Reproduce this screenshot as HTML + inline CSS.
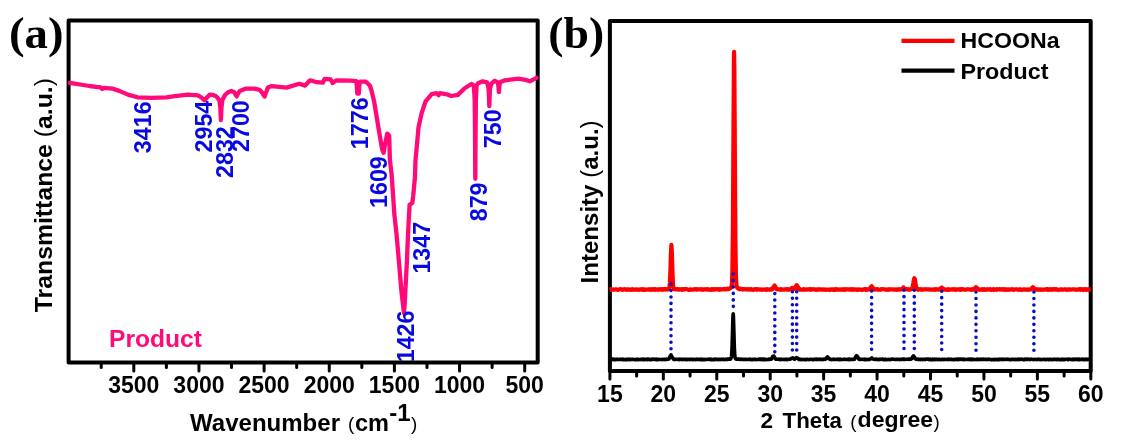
<!DOCTYPE html>
<html><head><meta charset="utf-8"><style>
html,body{margin:0;padding:0;background:#fff;}
body{width:1122px;height:446px;overflow:hidden;font-family:"Liberation Sans",sans-serif;}
svg{display:block;filter:blur(0.35px);}
</style></head><body>
<svg width="1122" height="446" viewBox="0 0 1122 446">
<rect width="1122" height="446" fill="#fff"/>
<rect x="68.6" y="20.4" width="469.10" height="342.00" fill="none" stroke="#000" stroke-width="4.0" stroke-linejoin="round"/>
<line x1="101.23" y1="362.4" x2="101.23" y2="367.40" stroke="#000" stroke-width="3" stroke-linecap="round"/>
<line x1="133.80" y1="362.4" x2="133.80" y2="370.90" stroke="#000" stroke-width="3" stroke-linecap="round"/>
<line x1="166.38" y1="362.4" x2="166.38" y2="367.40" stroke="#000" stroke-width="3" stroke-linecap="round"/>
<line x1="198.95" y1="362.4" x2="198.95" y2="370.90" stroke="#000" stroke-width="3" stroke-linecap="round"/>
<line x1="231.53" y1="362.4" x2="231.53" y2="367.40" stroke="#000" stroke-width="3" stroke-linecap="round"/>
<line x1="264.10" y1="362.4" x2="264.10" y2="370.90" stroke="#000" stroke-width="3" stroke-linecap="round"/>
<line x1="296.68" y1="362.4" x2="296.68" y2="367.40" stroke="#000" stroke-width="3" stroke-linecap="round"/>
<line x1="329.25" y1="362.4" x2="329.25" y2="370.90" stroke="#000" stroke-width="3" stroke-linecap="round"/>
<line x1="361.83" y1="362.4" x2="361.83" y2="367.40" stroke="#000" stroke-width="3" stroke-linecap="round"/>
<line x1="394.40" y1="362.4" x2="394.40" y2="370.90" stroke="#000" stroke-width="3" stroke-linecap="round"/>
<line x1="426.98" y1="362.4" x2="426.98" y2="367.40" stroke="#000" stroke-width="3" stroke-linecap="round"/>
<line x1="459.55" y1="362.4" x2="459.55" y2="370.90" stroke="#000" stroke-width="3" stroke-linecap="round"/>
<line x1="492.12" y1="362.4" x2="492.12" y2="367.40" stroke="#000" stroke-width="3" stroke-linecap="round"/>
<line x1="524.70" y1="362.4" x2="524.70" y2="370.90" stroke="#000" stroke-width="3" stroke-linecap="round"/>
<text x="133.80" y="392.5" font-family='"Liberation Sans", sans-serif' font-weight="bold" font-size="23.0" text-anchor="middle">3500</text>
<text x="198.95" y="392.5" font-family='"Liberation Sans", sans-serif' font-weight="bold" font-size="23.0" text-anchor="middle">3000</text>
<text x="264.10" y="392.5" font-family='"Liberation Sans", sans-serif' font-weight="bold" font-size="23.0" text-anchor="middle">2500</text>
<text x="329.25" y="392.5" font-family='"Liberation Sans", sans-serif' font-weight="bold" font-size="23.0" text-anchor="middle">2000</text>
<text x="394.40" y="392.5" font-family='"Liberation Sans", sans-serif' font-weight="bold" font-size="23.0" text-anchor="middle">1500</text>
<text x="459.55" y="392.5" font-family='"Liberation Sans", sans-serif' font-weight="bold" font-size="23.0" text-anchor="middle">1000</text>
<text x="524.70" y="392.5" font-family='"Liberation Sans", sans-serif' font-weight="bold" font-size="23.0" text-anchor="middle">500</text>
<path d="M69.8,82.8 L80.0,84.5 L89.4,86.0 L96.0,86.8 L100.5,87.4 L102.2,89.0 L104.0,87.8 L112.9,88.7 L119.3,90.9 L127.9,94.6 L137.5,97.3 L151.4,97.8 L166.4,97.3 L175.0,96.2 L187.8,94.6 L197.9,95.3 L201.5,97.5 L204.6,100.3 L207.0,97.5 L209.6,94.7 L213.0,95.0 L215.7,96.0 L217.6,97.8 L219.4,100.5 L220.3,107.0 L220.9,120.2 L221.5,107.0 L222.4,100.0 L224.2,96.5 L225.5,94.5 L228.0,92.3 L231.2,91.0 L234.0,92.0 L235.5,94.5 L236.7,96.4 L238.0,93.5 L239.8,91.0 L246.0,88.6 L254.6,88.6 L259.5,89.8 L262.0,92.5 L264.6,96.6 L266.0,92.5 L267.9,87.6 L271.8,86.1 L286.5,87.6 L299.3,83.7 L305.1,85.6 L310.0,80.3 L316.9,82.2 L322.8,82.7 L324.7,78.8 L330.6,79.3 L332.6,83.0 L336.5,80.3 L350.2,80.7 L356.3,81.2 L356.8,86.0 L357.3,93.5 L358.8,93.5 L359.3,86.0 L360.0,81.7 L365.9,81.7 L369.8,85.6 L371.1,89.1 L374.1,101.3 L376.1,113.4 L379.1,131.6 L382.2,149.7 L383.6,152.8 L385.2,143.7 L387.2,133.6 L389.2,135.6 L389.9,160.0 L391.6,174.3 L392.9,192.3 L394.3,213.8 L396.6,235.0 L399.1,263.6 L401.5,292.0 L403.3,307.0 L404.0,313.0 L404.6,305.0 L405.3,292.0 L406.8,263.6 L408.0,235.0 L408.7,221.0 L409.6,204.8 L412.3,203.0 L413.2,195.8 L414.9,177.9 L415.5,160.0 L416.5,149.7 L418.5,127.5 L421.6,113.4 L425.6,101.3 L431.7,94.2 L436.7,93.2 L438.7,95.2 L440.0,93.2 L446.7,94.3 L451.2,96.0 L457.9,94.9 L464.7,88.2 L471.4,84.0 L473.8,85.3 L474.7,100.0 L475.0,130.0 L475.3,178.8 L475.6,130.0 L475.9,100.0 L476.6,85.5 L478.1,83.3 L482.6,81.3 L487.1,82.3 L488.5,88.0 L488.9,95.0 L489.3,106.1 L489.7,95.0 L490.1,88.0 L491.6,83.4 L494.9,80.8 L497.8,82.3 L498.5,87.0 L498.9,92.1 L499.3,87.0 L500.0,82.3 L505.0,80.3 L518.5,78.7 L525.2,79.8 L529.7,81.3 L536.4,77.8" fill="none" stroke="#ff0a78" stroke-width="4.3" stroke-linejoin="round" stroke-linecap="round"/>
<text transform="translate(150.89,153.20) rotate(-90)" font-family='"Liberation Sans", sans-serif' font-weight="bold" font-size="23.3" fill="#0808e0">3416</text>
<text transform="translate(212.39,152.50) rotate(-90)" font-family='"Liberation Sans", sans-serif' font-weight="bold" font-size="23.3" fill="#0808e0">2954</text>
<text transform="translate(232.89,178.00) rotate(-90)" font-family='"Liberation Sans", sans-serif' font-weight="bold" font-size="23.3" fill="#0808e0">2832</text>
<text transform="translate(249.39,152.00) rotate(-90)" font-family='"Liberation Sans", sans-serif' font-weight="bold" font-size="23.3" fill="#0808e0">2700</text>
<text transform="translate(367.89,149.20) rotate(-90)" font-family='"Liberation Sans", sans-serif' font-weight="bold" font-size="23.3" fill="#0808e0">1776</text>
<text transform="translate(386.79,208.00) rotate(-90)" font-family='"Liberation Sans", sans-serif' font-weight="bold" font-size="23.3" fill="#0808e0">1609</text>
<text transform="translate(429.89,273.60) rotate(-90)" font-family='"Liberation Sans", sans-serif' font-weight="bold" font-size="23.3" fill="#0808e0">1347</text>
<text transform="translate(414.09,362.30) rotate(-90)" font-family='"Liberation Sans", sans-serif' font-weight="bold" font-size="23.3" fill="#0808e0">1426</text>
<text transform="translate(486.99,221.30) rotate(-90)" font-family='"Liberation Sans", sans-serif' font-weight="bold" font-size="23.3" fill="#0808e0">879</text>
<text transform="translate(501.49,148.20) rotate(-90)" font-family='"Liberation Sans", sans-serif' font-weight="bold" font-size="23.3" fill="#0808e0">750</text>
<text x="109" y="347.3" font-family='"Liberation Sans", sans-serif' font-weight="bold" font-size="24.5" fill="#ff0a78" textLength="93" lengthAdjust="spacingAndGlyphs">Product</text>
<text x="9.0" y="47.7" font-family='"Liberation Serif", serif' font-weight="bold" font-size="43.6" textLength="54.6" lengthAdjust="spacingAndGlyphs">(a)</text>
<text transform="translate(51.5,312.2) rotate(-90)" font-family='"Liberation Sans", sans-serif' font-weight="bold" font-size="23.5" textLength="234.2" lengthAdjust="spacingAndGlyphs">Transmittance <tspan font-weight="normal">(</tspan>a.u.<tspan font-weight="normal">)</tspan></text>
<text x="190" y="430.6" font-family='"Liberation Sans", sans-serif' font-weight="bold" font-size="23.5"><tspan textLength="150" lengthAdjust="spacingAndGlyphs">Wavenumber</tspan></text>
<text x="348" y="430.2" font-family='"Liberation Sans", sans-serif' font-size="18.8">(</text>
<text x="355" y="430.6" font-family='"Liberation Sans", sans-serif' font-weight="bold" font-size="23.5">cm</text>
<text x="389.3" y="420.5" font-family='"Liberation Sans", sans-serif' font-weight="bold" font-size="24">-1</text>
<text x="411" y="430.2" font-family='"Liberation Sans", sans-serif' font-size="18.8">)</text>
<rect x="609.9" y="21.1" width="480.80" height="349.90" fill="none" stroke="#000" stroke-width="4.0" stroke-linejoin="round"/>
<line x1="609.90" y1="371.0" x2="609.90" y2="379.00" stroke="#000" stroke-width="3" stroke-linecap="round"/>
<line x1="636.62" y1="371.0" x2="636.62" y2="376.00" stroke="#000" stroke-width="3" stroke-linecap="round"/>
<line x1="663.33" y1="371.0" x2="663.33" y2="379.00" stroke="#000" stroke-width="3" stroke-linecap="round"/>
<line x1="690.05" y1="371.0" x2="690.05" y2="376.00" stroke="#000" stroke-width="3" stroke-linecap="round"/>
<line x1="716.77" y1="371.0" x2="716.77" y2="379.00" stroke="#000" stroke-width="3" stroke-linecap="round"/>
<line x1="743.49" y1="371.0" x2="743.49" y2="376.00" stroke="#000" stroke-width="3" stroke-linecap="round"/>
<line x1="770.20" y1="371.0" x2="770.20" y2="379.00" stroke="#000" stroke-width="3" stroke-linecap="round"/>
<line x1="796.92" y1="371.0" x2="796.92" y2="376.00" stroke="#000" stroke-width="3" stroke-linecap="round"/>
<line x1="823.64" y1="371.0" x2="823.64" y2="379.00" stroke="#000" stroke-width="3" stroke-linecap="round"/>
<line x1="850.36" y1="371.0" x2="850.36" y2="376.00" stroke="#000" stroke-width="3" stroke-linecap="round"/>
<line x1="877.08" y1="371.0" x2="877.08" y2="379.00" stroke="#000" stroke-width="3" stroke-linecap="round"/>
<line x1="903.79" y1="371.0" x2="903.79" y2="376.00" stroke="#000" stroke-width="3" stroke-linecap="round"/>
<line x1="930.51" y1="371.0" x2="930.51" y2="379.00" stroke="#000" stroke-width="3" stroke-linecap="round"/>
<line x1="957.23" y1="371.0" x2="957.23" y2="376.00" stroke="#000" stroke-width="3" stroke-linecap="round"/>
<line x1="983.94" y1="371.0" x2="983.94" y2="379.00" stroke="#000" stroke-width="3" stroke-linecap="round"/>
<line x1="1010.66" y1="371.0" x2="1010.66" y2="376.00" stroke="#000" stroke-width="3" stroke-linecap="round"/>
<line x1="1037.38" y1="371.0" x2="1037.38" y2="379.00" stroke="#000" stroke-width="3" stroke-linecap="round"/>
<line x1="1064.10" y1="371.0" x2="1064.10" y2="376.00" stroke="#000" stroke-width="3" stroke-linecap="round"/>
<line x1="1090.82" y1="371.0" x2="1090.82" y2="379.00" stroke="#000" stroke-width="3" stroke-linecap="round"/>
<text x="609.90" y="401.5" font-family='"Liberation Sans", sans-serif' font-weight="bold" font-size="23" text-anchor="middle">15</text>
<text x="663.33" y="401.5" font-family='"Liberation Sans", sans-serif' font-weight="bold" font-size="23" text-anchor="middle">20</text>
<text x="716.77" y="401.5" font-family='"Liberation Sans", sans-serif' font-weight="bold" font-size="23" text-anchor="middle">25</text>
<text x="770.20" y="401.5" font-family='"Liberation Sans", sans-serif' font-weight="bold" font-size="23" text-anchor="middle">30</text>
<text x="823.64" y="401.5" font-family='"Liberation Sans", sans-serif' font-weight="bold" font-size="23" text-anchor="middle">35</text>
<text x="877.08" y="401.5" font-family='"Liberation Sans", sans-serif' font-weight="bold" font-size="23" text-anchor="middle">40</text>
<text x="930.51" y="401.5" font-family='"Liberation Sans", sans-serif' font-weight="bold" font-size="23" text-anchor="middle">45</text>
<text x="983.94" y="401.5" font-family='"Liberation Sans", sans-serif' font-weight="bold" font-size="23" text-anchor="middle">50</text>
<text x="1037.38" y="401.5" font-family='"Liberation Sans", sans-serif' font-weight="bold" font-size="23" text-anchor="middle">55</text>
<text x="1090.82" y="401.5" font-family='"Liberation Sans", sans-serif' font-weight="bold" font-size="23" text-anchor="middle">60</text>
<path d="M609.90,289.82 L610.40,289.81 L610.90,289.19 L611.40,289.21 L611.90,289.73 L612.40,289.66 L612.90,289.62 L613.40,289.36 L613.90,289.57 L614.40,289.57 L614.90,289.55 L615.40,289.26 L615.90,289.45 L616.40,289.42 L616.90,289.65 L617.40,289.84 L617.90,289.81 L618.40,289.53 L618.90,289.46 L619.40,289.33 L619.90,289.17 L620.40,289.17 L620.90,289.47 L621.40,289.37 L621.90,289.41 L622.40,289.77 L622.90,289.51 L623.40,289.54 L623.90,289.31 L624.40,289.16 L624.90,289.37 L625.40,289.24 L625.90,289.50 L626.40,289.85 L626.90,289.62 L627.40,289.27 L627.90,289.77 L628.40,289.70 L628.90,289.66 L629.40,289.78 L629.90,289.68 L630.40,289.70 L630.90,289.39 L631.40,289.83 L631.90,289.82 L632.40,289.26 L632.90,289.67 L633.40,289.65 L633.90,289.47 L634.40,289.52 L634.90,289.49 L635.40,289.79 L635.90,289.49 L636.40,289.73 L636.90,289.39 L637.40,289.76 L637.90,289.77 L638.40,289.47 L638.90,289.54 L639.40,289.79 L639.90,289.65 L640.40,289.48 L640.90,289.30 L641.40,289.37 L641.90,289.63 L642.40,289.26 L642.90,289.78 L643.40,289.33 L643.90,289.78 L644.40,289.36 L644.90,289.81 L645.40,289.64 L645.90,289.49 L646.40,289.50 L646.90,289.60 L647.40,289.55 L647.90,289.36 L648.40,289.28 L648.90,289.50 L649.40,289.79 L649.90,289.57 L650.40,289.19 L650.90,289.71 L651.40,289.64 L651.90,289.77 L652.40,289.27 L652.90,289.66 L653.40,289.17 L653.90,289.59 L654.40,289.32 L654.90,289.29 L655.40,289.74 L655.90,289.20 L656.40,289.49 L656.90,289.72 L657.40,289.30 L657.90,289.27 L658.40,289.74 L658.90,289.41 L659.40,289.62 L659.90,289.14 L660.40,289.36 L660.90,289.23 L661.40,289.57 L661.90,289.16 L662.40,289.76 L662.90,289.10 L663.40,289.59 L663.90,289.08 L664.40,289.24 L664.90,289.61 L665.40,289.14 L665.90,289.13 L666.40,289.46 L666.90,289.21 L667.40,288.92 L667.90,289.51 L668.40,288.79 L668.90,288.37 L669.40,287.21 L669.90,282.45 L670.40,270.63 L670.90,253.52 L671.40,244.88 L671.90,253.47 L672.40,270.42 L672.90,282.55 L673.40,287.48 L673.90,288.98 L674.40,289.21 L674.90,289.42 L675.40,289.38 L675.90,289.27 L676.40,289.13 L676.90,289.47 L677.40,289.25 L677.90,289.11 L678.40,289.37 L678.90,289.68 L679.40,289.17 L679.90,289.49 L680.40,289.36 L680.90,289.46 L681.40,289.20 L681.90,289.78 L682.40,289.29 L682.90,289.53 L683.40,289.41 L683.90,289.13 L684.40,289.51 L684.90,289.22 L685.40,289.16 L685.90,289.14 L686.40,289.23 L686.90,289.19 L687.40,289.57 L687.90,289.48 L688.40,289.81 L688.90,289.78 L689.40,289.82 L689.90,289.29 L690.40,289.44 L690.90,289.30 L691.40,289.54 L691.90,289.56 L692.40,289.69 L692.90,289.62 L693.40,289.31 L693.90,289.42 L694.40,289.50 L694.90,289.13 L695.40,289.15 L695.90,289.41 L696.40,289.21 L696.90,289.63 L697.40,289.30 L697.90,289.20 L698.40,289.25 L698.90,289.29 L699.40,289.28 L699.90,289.49 L700.40,289.45 L700.90,289.34 L701.40,289.57 L701.90,289.27 L702.40,289.76 L702.90,289.80 L703.40,289.63 L703.90,289.43 L704.40,289.48 L704.90,289.53 L705.40,289.16 L705.90,289.41 L706.40,289.49 L706.90,289.25 L707.40,289.18 L707.90,289.68 L708.40,289.37 L708.90,289.48 L709.40,289.76 L709.90,289.54 L710.40,289.31 L710.90,289.80 L711.40,289.37 L711.90,289.12 L712.40,289.58 L712.90,289.17 L713.40,289.31 L713.90,289.69 L714.40,289.56 L714.90,289.10 L715.40,289.40 L715.90,289.37 L716.40,289.42 L716.90,289.22 L717.40,289.49 L717.90,289.12 L718.40,289.26 L718.90,289.32 L719.40,289.71 L719.90,289.10 L720.40,289.57 L720.90,289.16 L721.40,289.42 L721.90,289.28 L722.40,289.32 L722.90,289.51 L723.40,289.25 L723.90,289.04 L724.40,289.02 L724.90,288.96 L725.40,289.47 L725.90,289.29 L726.40,289.48 L726.90,289.24 L727.40,288.71 L727.90,289.08 L728.40,289.07 L728.90,288.91 L729.40,288.59 L729.90,288.27 L730.40,288.04 L730.90,287.81 L731.40,286.57 L731.90,283.79 L732.40,270.67 L732.90,227.65 L733.40,141.79 L733.90,61.18 L734.10,51.73 L734.40,71.84 L734.90,160.81 L735.40,239.53 L735.90,274.76 L736.40,284.70 L736.90,287.10 L737.40,288.01 L737.90,288.20 L738.40,288.65 L738.90,288.35 L739.40,288.68 L739.90,289.25 L740.40,288.74 L740.90,289.00 L741.40,288.81 L741.90,288.87 L742.40,289.48 L742.90,289.58 L743.40,289.37 L743.90,289.02 L744.40,289.16 L744.90,289.13 L745.40,289.46 L745.90,289.48 L746.40,289.32 L746.90,289.39 L747.40,289.11 L747.90,289.42 L748.40,289.71 L748.90,289.58 L749.40,289.13 L749.90,289.43 L750.40,289.57 L750.90,289.25 L751.40,289.71 L751.90,289.41 L752.40,289.58 L752.90,289.37 L753.40,289.79 L753.90,289.64 L754.40,289.50 L754.90,289.20 L755.40,289.41 L755.90,289.12 L756.40,289.52 L756.90,289.72 L757.40,289.23 L757.90,289.47 L758.40,289.45 L758.90,289.40 L759.40,289.61 L759.90,289.77 L760.40,289.61 L760.90,289.45 L761.40,289.79 L761.90,289.35 L762.40,289.64 L762.90,289.58 L763.40,289.65 L763.90,289.72 L764.40,289.28 L764.90,289.55 L765.40,289.40 L765.90,289.59 L766.40,289.80 L766.90,289.56 L767.40,289.12 L767.90,289.44 L768.40,289.61 L768.90,289.73 L769.40,289.56 L769.90,289.67 L770.40,289.11 L770.90,289.74 L771.40,289.55 L771.90,289.35 L772.40,289.25 L772.90,288.61 L773.40,287.09 L773.90,286.53 L774.40,285.89 L774.50,285.47 L774.90,286.15 L775.40,286.99 L775.90,287.77 L776.40,288.98 L776.90,288.93 L777.40,289.44 L777.90,289.38 L778.40,289.27 L778.90,289.50 L779.40,289.44 L779.90,289.26 L780.40,289.79 L780.90,289.17 L781.40,289.12 L781.90,289.46 L782.40,289.71 L782.90,289.59 L783.40,289.65 L783.90,289.47 L784.40,289.60 L784.90,289.36 L785.40,289.31 L785.90,289.48 L786.40,289.14 L786.90,289.18 L787.40,289.65 L787.90,289.24 L788.40,289.64 L788.90,289.65 L789.40,289.37 L789.90,289.50 L790.40,289.43 L790.90,289.21 L791.40,288.29 L791.90,287.90 L792.40,287.87 L792.90,288.09 L793.40,288.35 L793.90,288.46 L794.40,288.88 L794.90,288.77 L795.40,287.44 L795.90,286.36 L796.40,285.29 L796.70,285.14 L796.90,285.53 L797.40,285.98 L797.90,287.44 L798.40,288.36 L798.90,289.03 L799.40,289.58 L799.90,289.10 L800.40,289.66 L800.90,289.31 L801.40,289.56 L801.90,289.67 L802.40,289.58 L802.90,289.40 L803.40,289.71 L803.90,289.19 L804.40,289.57 L804.90,289.41 L805.40,289.50 L805.90,289.73 L806.40,289.69 L806.90,289.58 L807.40,289.35 L807.90,289.30 L808.40,289.46 L808.90,289.30 L809.40,289.33 L809.90,289.81 L810.40,289.22 L810.90,289.71 L811.40,289.41 L811.90,289.40 L812.40,289.36 L812.90,289.20 L813.40,289.46 L813.90,289.26 L814.40,289.45 L814.90,289.35 L815.40,289.77 L815.90,289.79 L816.40,289.45 L816.90,289.59 L817.40,289.79 L817.90,289.37 L818.40,289.21 L818.90,289.31 L819.40,289.28 L819.90,289.62 L820.40,289.41 L820.90,289.39 L821.40,289.70 L821.90,289.31 L822.40,289.71 L822.90,289.59 L823.40,289.43 L823.90,289.72 L824.40,289.38 L824.90,289.76 L825.40,289.79 L825.90,289.50 L826.40,289.63 L826.90,289.81 L827.40,289.67 L827.90,289.67 L828.40,289.75 L828.90,289.80 L829.40,289.67 L829.90,289.83 L830.40,289.35 L830.90,289.58 L831.40,289.62 L831.90,289.40 L832.40,289.42 L832.90,289.27 L833.40,289.82 L833.90,289.39 L834.40,289.48 L834.90,289.77 L835.40,289.28 L835.90,289.82 L836.40,289.24 L836.90,289.17 L837.40,289.39 L837.90,289.40 L838.40,289.79 L838.90,289.76 L839.40,289.68 L839.90,289.45 L840.40,289.53 L840.90,289.31 L841.40,289.73 L841.90,289.42 L842.40,289.35 L842.90,289.59 L843.40,289.25 L843.90,289.37 L844.40,289.79 L844.90,289.21 L845.40,289.25 L845.90,289.29 L846.40,289.32 L846.90,289.44 L847.40,289.32 L847.90,289.39 L848.40,289.32 L848.90,289.31 L849.40,289.57 L849.90,289.38 L850.40,289.41 L850.90,289.68 L851.40,289.19 L851.90,289.25 L852.40,289.74 L852.90,289.45 L853.40,289.69 L853.90,289.24 L854.40,289.51 L854.90,289.74 L855.40,289.38 L855.90,289.68 L856.40,289.57 L856.90,289.42 L857.40,289.84 L857.90,289.42 L858.40,289.48 L858.90,289.58 L859.40,289.37 L859.90,289.73 L860.40,289.56 L860.90,289.55 L861.40,289.52 L861.90,289.83 L862.40,289.83 L862.90,289.73 L863.40,289.46 L863.90,289.43 L864.40,289.50 L864.90,289.17 L865.40,289.21 L865.90,289.83 L866.40,289.22 L866.90,289.78 L867.40,289.60 L867.90,289.75 L868.40,289.14 L868.90,289.22 L869.40,289.37 L869.90,288.38 L870.40,287.72 L870.90,287.04 L871.40,286.33 L871.60,286.25 L871.90,286.75 L872.40,287.02 L872.90,288.49 L873.40,288.94 L873.90,288.90 L874.40,289.66 L874.90,289.26 L875.40,289.45 L875.90,289.51 L876.40,289.22 L876.90,289.48 L877.40,289.17 L877.90,289.27 L878.40,289.78 L878.90,289.71 L879.40,289.50 L879.90,289.62 L880.40,289.75 L880.90,289.24 L881.40,289.49 L881.90,289.23 L882.40,289.22 L882.90,289.22 L883.40,289.29 L883.90,289.18 L884.40,289.29 L884.90,289.41 L885.40,289.58 L885.90,289.74 L886.40,289.78 L886.90,289.65 L887.40,289.50 L887.90,289.78 L888.40,289.26 L888.90,289.22 L889.40,289.71 L889.90,289.58 L890.40,289.29 L890.90,289.41 L891.40,289.35 L891.90,289.44 L892.40,289.44 L892.90,289.42 L893.40,289.70 L893.90,289.71 L894.40,289.53 L894.90,289.47 L895.40,289.34 L895.90,289.67 L896.40,289.83 L896.90,289.30 L897.40,289.63 L897.90,289.62 L898.40,289.59 L898.90,289.15 L899.40,289.51 L899.90,289.26 L900.40,289.23 L900.90,289.45 L901.40,289.36 L901.90,289.06 L902.40,288.71 L902.90,288.20 L903.40,287.77 L903.50,287.47 L903.90,288.10 L904.40,288.56 L904.90,289.04 L905.40,289.22 L905.90,289.01 L906.40,289.20 L906.90,289.16 L907.40,289.54 L907.90,289.47 L908.40,289.22 L908.90,289.75 L909.40,289.75 L909.90,289.68 L910.40,289.35 L910.90,289.18 L911.40,288.97 L911.90,288.98 L912.40,287.83 L912.90,285.44 L913.40,282.83 L913.90,279.57 L914.40,278.13 L914.90,279.46 L915.40,282.70 L915.90,285.57 L916.40,287.80 L916.90,288.49 L917.40,289.32 L917.90,289.17 L918.40,289.67 L918.90,289.21 L919.40,289.31 L919.90,289.46 L920.40,289.37 L920.90,289.47 L921.40,289.76 L921.90,289.25 L922.40,289.66 L922.90,289.61 L923.40,289.67 L923.90,289.44 L924.40,289.45 L924.90,289.37 L925.40,289.46 L925.90,289.31 L926.40,289.27 L926.90,289.47 L927.40,289.27 L927.90,289.46 L928.40,289.54 L928.90,289.35 L929.40,289.26 L929.90,289.56 L930.40,289.74 L930.90,289.29 L931.40,289.57 L931.90,289.60 L932.40,289.76 L932.90,289.62 L933.40,289.35 L933.90,289.28 L934.40,289.72 L934.90,289.35 L935.40,289.15 L935.90,289.75 L936.40,289.27 L936.90,289.35 L937.40,289.35 L937.90,289.31 L938.40,289.62 L938.90,289.32 L939.40,289.30 L939.90,289.08 L940.40,289.02 L940.90,287.99 L941.40,288.02 L941.70,287.64 L941.90,287.68 L942.40,288.32 L942.90,288.61 L943.40,288.78 L943.90,289.38 L944.40,289.71 L944.90,289.56 L945.40,289.47 L945.90,289.69 L946.40,289.78 L946.90,289.24 L947.40,289.35 L947.90,289.82 L948.40,289.79 L948.90,289.28 L949.40,289.64 L949.90,289.76 L950.40,289.56 L950.90,289.64 L951.40,289.51 L951.90,289.31 L952.40,289.29 L952.90,289.19 L953.40,289.61 L953.90,289.24 L954.40,289.58 L954.90,289.42 L955.40,289.45 L955.90,289.83 L956.40,289.42 L956.90,289.48 L957.40,289.41 L957.90,289.30 L958.40,289.30 L958.90,289.52 L959.40,289.72 L959.90,289.21 L960.40,289.81 L960.90,289.62 L961.40,289.18 L961.90,289.64 L962.40,289.43 L962.90,289.51 L963.40,289.22 L963.90,289.50 L964.40,289.51 L964.90,289.69 L965.40,289.55 L965.90,289.64 L966.40,289.66 L966.90,289.30 L967.40,289.16 L967.90,289.48 L968.40,289.23 L968.90,289.24 L969.40,289.37 L969.90,289.51 L970.40,289.57 L970.90,289.59 L971.40,289.79 L971.90,289.20 L972.40,289.51 L972.90,289.16 L973.40,289.50 L973.90,289.16 L974.40,288.59 L974.90,288.14 L975.40,287.77 L975.90,287.29 L976.00,287.61 L976.40,287.37 L976.90,287.91 L977.40,288.93 L977.90,289.16 L978.40,289.05 L978.90,289.63 L979.40,289.37 L979.90,289.79 L980.40,289.58 L980.90,289.70 L981.40,289.76 L981.90,289.49 L982.40,289.82 L982.90,289.16 L983.40,289.38 L983.90,289.73 L984.40,289.15 L984.90,289.61 L985.40,289.84 L985.90,289.65 L986.40,289.75 L986.90,289.20 L987.40,289.52 L987.90,289.57 L988.40,289.45 L988.90,289.44 L989.40,289.70 L989.90,289.26 L990.40,289.18 L990.90,289.56 L991.40,289.82 L991.90,289.73 L992.40,289.62 L992.90,289.35 L993.40,289.78 L993.90,289.18 L994.40,289.32 L994.90,289.70 L995.40,289.77 L995.90,289.43 L996.40,289.78 L996.90,289.23 L997.40,289.57 L997.90,289.20 L998.40,289.31 L998.90,289.28 L999.40,289.15 L999.90,289.43 L1000.40,289.50 L1000.90,289.34 L1001.40,289.60 L1001.90,289.18 L1002.40,289.51 L1002.90,289.52 L1003.40,289.43 L1003.90,289.79 L1004.40,289.24 L1004.90,289.45 L1005.40,289.47 L1005.90,289.41 L1006.40,289.83 L1006.90,289.55 L1007.40,289.51 L1007.90,289.46 L1008.40,289.45 L1008.90,289.81 L1009.40,289.71 L1009.90,289.60 L1010.40,289.26 L1010.90,289.56 L1011.40,289.24 L1011.90,289.39 L1012.40,289.16 L1012.90,289.64 L1013.40,289.83 L1013.90,289.59 L1014.40,289.55 L1014.90,289.32 L1015.40,289.46 L1015.90,289.47 L1016.40,289.44 L1016.90,289.34 L1017.40,289.30 L1017.90,289.67 L1018.40,289.81 L1018.90,289.72 L1019.40,289.58 L1019.90,289.17 L1020.40,289.36 L1020.90,289.73 L1021.40,289.83 L1021.90,289.53 L1022.40,289.54 L1022.90,289.63 L1023.40,289.32 L1023.90,289.64 L1024.40,289.40 L1024.90,289.74 L1025.40,289.47 L1025.90,289.61 L1026.40,289.53 L1026.90,289.51 L1027.40,289.46 L1027.90,289.80 L1028.40,289.66 L1028.90,289.42 L1029.40,289.47 L1029.90,289.72 L1030.40,289.55 L1030.90,289.30 L1031.40,289.13 L1031.90,287.95 L1032.40,287.65 L1032.90,287.30 L1033.00,287.17 L1033.40,287.70 L1033.90,288.28 L1034.40,288.52 L1034.90,289.15 L1035.40,289.50 L1035.90,289.56 L1036.40,289.36 L1036.90,289.68 L1037.40,289.37 L1037.90,289.24 L1038.40,289.60 L1038.90,289.59 L1039.40,289.43 L1039.90,289.49 L1040.40,289.83 L1040.90,289.71 L1041.40,289.43 L1041.90,289.78 L1042.40,289.54 L1042.90,289.43 L1043.40,289.60 L1043.90,289.69 L1044.40,289.77 L1044.90,289.62 L1045.40,289.61 L1045.90,289.43 L1046.40,289.18 L1046.90,289.47 L1047.40,289.23 L1047.90,289.81 L1048.40,289.40 L1048.90,289.57 L1049.40,289.66 L1049.90,289.27 L1050.40,289.73 L1050.90,289.38 L1051.40,289.20 L1051.90,289.57 L1052.40,289.43 L1052.90,289.79 L1053.40,289.46 L1053.90,289.21 L1054.40,289.16 L1054.90,289.17 L1055.40,289.49 L1055.90,289.65 L1056.40,289.18 L1056.90,289.38 L1057.40,289.48 L1057.90,289.78 L1058.40,289.83 L1058.90,289.76 L1059.40,289.60 L1059.90,289.55 L1060.40,289.31 L1060.90,289.58 L1061.40,289.27 L1061.90,289.36 L1062.40,289.73 L1062.90,289.55 L1063.40,289.66 L1063.90,289.47 L1064.40,289.34 L1064.90,289.50 L1065.40,289.55 L1065.90,289.32 L1066.40,289.74 L1066.90,289.84 L1067.40,289.28 L1067.90,289.32 L1068.40,289.72 L1068.90,289.65 L1069.40,289.31 L1069.90,289.56 L1070.40,289.32 L1070.90,289.75 L1071.40,289.56 L1071.90,289.51 L1072.40,289.26 L1072.90,289.43 L1073.40,289.48 L1073.90,289.40 L1074.40,289.28 L1074.90,289.29 L1075.40,289.64 L1075.90,289.80 L1076.40,289.74 L1076.90,289.58 L1077.40,289.70 L1077.90,289.24 L1078.40,289.30 L1078.90,289.64 L1079.40,289.15 L1079.90,289.21 L1080.40,289.69 L1080.90,289.29 L1081.40,289.28 L1081.90,289.43 L1082.40,289.74 L1082.90,289.16 L1083.40,289.76 L1083.90,289.36 L1084.40,289.55 L1084.90,289.48 L1085.40,289.23 L1085.90,289.82 L1086.40,289.27 L1086.90,289.71 L1087.40,289.76 L1087.90,289.47 L1088.40,289.82 L1088.90,289.19 L1089.40,289.25 L1089.90,289.49 L1090.40,289.20" fill="none" stroke="#ff0000" stroke-width="4.2" stroke-linejoin="round"/>
<line x1="671.0" y1="284.0" x2="671.0" y2="349.6" stroke="#0c0cc4" stroke-width="3.6" stroke-dasharray="0 6.47" stroke-linecap="round"/>
<line x1="733.3" y1="274.0" x2="733.3" y2="307.6" stroke="#0c0cc4" stroke-width="3.6" stroke-dasharray="0 6.47" stroke-linecap="round"/>
<line x1="774.8" y1="293.6" x2="774.8" y2="352.3" stroke="#0c0cc4" stroke-width="3.6" stroke-dasharray="0 6.47" stroke-linecap="round"/>
<line x1="792.4" y1="291.8" x2="792.4" y2="350.8" stroke="#0c0cc4" stroke-width="3.6" stroke-dasharray="0 6.47" stroke-linecap="round"/>
<line x1="796.7" y1="291.8" x2="796.7" y2="350.8" stroke="#0c0cc4" stroke-width="3.6" stroke-dasharray="0 6.47" stroke-linecap="round"/>
<line x1="871.6" y1="291.0" x2="871.6" y2="350.40000000000003" stroke="#0c0cc4" stroke-width="3.6" stroke-dasharray="0 6.47" stroke-linecap="round"/>
<line x1="904.0" y1="290.2" x2="904.0" y2="349.6" stroke="#0c0cc4" stroke-width="3.6" stroke-dasharray="0 6.47" stroke-linecap="round"/>
<line x1="914.3" y1="290.2" x2="914.3" y2="349.6" stroke="#0c0cc4" stroke-width="3.6" stroke-dasharray="0 6.47" stroke-linecap="round"/>
<line x1="941.7" y1="291.2" x2="941.7" y2="350.1" stroke="#0c0cc4" stroke-width="3.6" stroke-dasharray="0 6.47" stroke-linecap="round"/>
<line x1="976.0" y1="292.0" x2="976.0" y2="350.90000000000003" stroke="#0c0cc4" stroke-width="3.6" stroke-dasharray="0 6.47" stroke-linecap="round"/>
<line x1="1033.9" y1="292.0" x2="1033.9" y2="350.90000000000003" stroke="#0c0cc4" stroke-width="3.6" stroke-dasharray="0 6.47" stroke-linecap="round"/>
<path d="M609.90,359.24 L610.40,359.43 L610.90,359.32 L611.40,359.46 L611.90,359.47 L612.40,359.14 L612.90,359.11 L613.40,359.60 L613.90,359.26 L614.40,359.24 L614.90,359.70 L615.40,359.38 L615.90,359.60 L616.40,359.39 L616.90,359.48 L617.40,359.19 L617.90,359.48 L618.40,359.62 L618.90,359.41 L619.40,359.54 L619.90,359.50 L620.40,359.14 L620.90,359.55 L621.40,359.45 L621.90,359.28 L622.40,359.12 L622.90,359.62 L623.40,359.38 L623.90,359.53 L624.40,359.63 L624.90,359.53 L625.40,359.65 L625.90,359.34 L626.40,359.58 L626.90,359.37 L627.40,359.66 L627.90,359.63 L628.40,359.16 L628.90,359.18 L629.40,359.23 L629.90,359.68 L630.40,359.36 L630.90,359.48 L631.40,359.28 L631.90,359.40 L632.40,359.33 L632.90,359.31 L633.40,359.45 L633.90,359.45 L634.40,359.64 L634.90,359.51 L635.40,359.66 L635.90,359.61 L636.40,359.69 L636.90,359.50 L637.40,359.20 L637.90,359.62 L638.40,359.68 L638.90,359.64 L639.40,359.44 L639.90,359.53 L640.40,359.23 L640.90,359.60 L641.40,359.44 L641.90,359.27 L642.40,359.14 L642.90,359.61 L643.40,359.69 L643.90,359.15 L644.40,359.58 L644.90,359.34 L645.40,359.19 L645.90,359.27 L646.40,359.56 L646.90,359.62 L647.40,359.12 L647.90,359.47 L648.40,359.12 L648.90,359.53 L649.40,359.30 L649.90,359.63 L650.40,359.69 L650.90,359.40 L651.40,359.70 L651.90,359.28 L652.40,359.14 L652.90,359.46 L653.40,359.12 L653.90,359.22 L654.40,359.34 L654.90,359.46 L655.40,359.19 L655.90,359.12 L656.40,359.62 L656.90,359.28 L657.40,359.67 L657.90,359.63 L658.40,359.32 L658.90,359.37 L659.40,359.41 L659.90,359.48 L660.40,359.45 L660.90,359.43 L661.40,359.46 L661.90,359.65 L662.40,359.39 L662.90,359.35 L663.40,359.52 L663.90,359.23 L664.40,359.26 L664.90,359.67 L665.40,359.39 L665.90,359.40 L666.40,359.07 L666.90,359.31 L667.40,359.39 L667.90,359.00 L668.40,359.23 L668.90,358.88 L669.40,357.82 L669.90,357.03 L670.40,355.70 L670.90,355.13 L671.00,354.91 L671.40,355.46 L671.90,356.58 L672.40,357.38 L672.90,358.30 L673.40,359.16 L673.90,359.53 L674.40,359.18 L674.90,359.32 L675.40,359.42 L675.90,359.26 L676.40,359.29 L676.90,359.27 L677.40,359.30 L677.90,359.44 L678.40,359.27 L678.90,359.31 L679.40,359.55 L679.90,359.11 L680.40,359.43 L680.90,359.53 L681.40,359.28 L681.90,359.23 L682.40,359.57 L682.90,359.24 L683.40,359.21 L683.90,359.35 L684.40,359.51 L684.90,359.16 L685.40,359.29 L685.90,359.30 L686.40,359.60 L686.90,359.36 L687.40,359.61 L687.90,359.20 L688.40,359.30 L688.90,359.49 L689.40,359.63 L689.90,359.37 L690.40,359.23 L690.90,359.17 L691.40,359.41 L691.90,359.21 L692.40,359.58 L692.90,359.60 L693.40,359.21 L693.90,359.26 L694.40,359.58 L694.90,359.48 L695.40,359.58 L695.90,359.30 L696.40,359.17 L696.90,359.27 L697.40,359.57 L697.90,359.26 L698.40,359.30 L698.90,359.35 L699.40,359.35 L699.90,359.34 L700.40,359.65 L700.90,359.19 L701.40,359.10 L701.90,359.66 L702.40,359.62 L702.90,359.69 L703.40,359.36 L703.90,359.67 L704.40,359.65 L704.90,359.23 L705.40,359.54 L705.90,359.60 L706.40,359.49 L706.90,359.41 L707.40,359.27 L707.90,359.30 L708.40,359.23 L708.90,359.13 L709.40,359.45 L709.90,359.26 L710.40,359.58 L710.90,359.12 L711.40,359.63 L711.90,359.51 L712.40,359.65 L712.90,359.63 L713.40,359.63 L713.90,359.44 L714.40,359.10 L714.90,359.54 L715.40,359.19 L715.90,359.27 L716.40,359.48 L716.90,359.40 L717.40,359.33 L717.90,359.65 L718.40,359.45 L718.90,359.29 L719.40,359.23 L719.90,359.60 L720.40,359.36 L720.90,359.55 L721.40,359.29 L721.90,359.19 L722.40,359.39 L722.90,359.56 L723.40,359.17 L723.90,359.53 L724.40,359.61 L724.90,359.53 L725.40,359.54 L725.90,359.04 L726.40,359.40 L726.90,359.53 L727.40,359.03 L727.90,359.14 L728.40,359.11 L728.90,359.23 L729.40,359.12 L729.90,359.08 L730.40,359.14 L730.90,358.38 L731.40,357.02 L731.90,351.20 L732.40,336.27 L732.90,317.76 L733.20,313.88 L733.40,315.84 L733.90,332.33 L734.40,349.23 L734.90,356.53 L735.40,358.43 L735.90,358.85 L736.40,359.16 L736.90,359.21 L737.40,359.12 L737.90,359.06 L738.40,359.17 L738.90,359.07 L739.40,359.34 L739.90,359.45 L740.40,359.26 L740.90,359.09 L741.40,359.15 L741.90,359.28 L742.40,359.42 L742.90,359.53 L743.40,359.29 L743.90,359.55 L744.40,359.44 L744.90,359.33 L745.40,359.30 L745.90,359.37 L746.40,359.50 L746.90,359.33 L747.40,359.50 L747.90,359.36 L748.40,359.23 L748.90,359.41 L749.40,359.50 L749.90,359.13 L750.40,359.34 L750.90,359.34 L751.40,359.62 L751.90,359.65 L752.40,359.31 L752.90,359.63 L753.40,359.56 L753.90,359.25 L754.40,359.37 L754.90,359.16 L755.40,359.58 L755.90,359.49 L756.40,359.62 L756.90,359.57 L757.40,359.49 L757.90,359.53 L758.40,359.43 L758.90,359.15 L759.40,359.44 L759.90,359.09 L760.40,359.18 L760.90,359.56 L761.40,359.12 L761.90,359.15 L762.40,359.15 L762.90,359.62 L763.40,359.20 L763.90,359.10 L764.40,359.59 L764.90,359.16 L765.40,359.59 L765.90,359.49 L766.40,359.59 L766.90,359.65 L767.40,359.43 L767.90,359.56 L768.40,359.09 L768.90,359.53 L769.40,359.37 L769.90,359.47 L770.40,359.06 L770.90,359.31 L771.40,359.08 L771.90,357.89 L772.40,357.08 L772.90,356.26 L773.40,355.99 L773.90,356.06 L774.40,356.99 L774.90,358.00 L775.40,358.89 L775.90,359.31 L776.40,359.23 L776.90,359.26 L777.40,359.30 L777.90,359.28 L778.40,359.32 L778.90,359.13 L779.40,359.38 L779.90,359.67 L780.40,359.33 L780.90,359.53 L781.40,359.18 L781.90,359.50 L782.40,359.54 L782.90,359.49 L783.40,359.40 L783.90,359.38 L784.40,359.47 L784.90,359.63 L785.40,359.18 L785.90,359.14 L786.40,359.53 L786.90,359.63 L787.40,359.39 L787.90,359.35 L788.40,359.51 L788.90,359.18 L789.40,359.21 L789.90,359.11 L790.40,359.20 L790.90,358.76 L791.40,358.31 L791.90,358.18 L792.40,358.16 L792.90,357.93 L793.40,358.57 L793.90,358.77 L794.40,359.23 L794.90,359.02 L795.40,358.55 L795.90,358.11 L796.40,357.66 L796.70,357.87 L796.90,357.84 L797.40,358.01 L797.90,358.56 L798.40,358.90 L798.90,359.39 L799.40,359.11 L799.90,359.66 L800.40,359.36 L800.90,359.44 L801.40,359.36 L801.90,359.59 L802.40,359.58 L802.90,359.42 L803.40,359.38 L803.90,359.52 L804.40,359.61 L804.90,359.33 L805.40,359.53 L805.90,359.67 L806.40,359.37 L806.90,359.23 L807.40,359.23 L807.90,359.52 L808.40,359.50 L808.90,359.67 L809.40,359.61 L809.90,359.24 L810.40,359.21 L810.90,359.25 L811.40,359.21 L811.90,359.52 L812.40,359.61 L812.90,359.63 L813.40,359.25 L813.90,359.61 L814.40,359.28 L814.90,359.35 L815.40,359.53 L815.90,359.15 L816.40,359.15 L816.90,359.59 L817.40,359.27 L817.90,359.31 L818.40,359.44 L818.90,359.50 L819.40,359.10 L819.90,359.29 L820.40,359.35 L820.90,359.38 L821.40,359.21 L821.90,359.44 L822.40,359.66 L822.90,359.31 L823.40,359.40 L823.90,359.14 L824.40,359.21 L824.90,359.39 L825.40,358.89 L825.90,359.01 L826.40,358.44 L826.90,357.27 L827.40,357.31 L827.60,356.92 L827.90,357.27 L828.40,357.80 L828.90,358.21 L829.40,358.97 L829.90,359.26 L830.40,359.49 L830.90,359.21 L831.40,359.52 L831.90,359.65 L832.40,359.48 L832.90,359.41 L833.40,359.15 L833.90,359.38 L834.40,359.30 L834.90,359.52 L835.40,359.50 L835.90,359.43 L836.40,359.20 L836.90,359.48 L837.40,359.47 L837.90,359.20 L838.40,359.63 L838.90,359.49 L839.40,359.17 L839.90,359.65 L840.40,359.18 L840.90,359.29 L841.40,359.53 L841.90,359.45 L842.40,359.43 L842.90,359.48 L843.40,359.37 L843.90,359.28 L844.40,359.20 L844.90,359.13 L845.40,359.52 L845.90,359.55 L846.40,359.42 L846.90,359.54 L847.40,359.31 L847.90,359.25 L848.40,359.32 L848.90,359.61 L849.40,359.11 L849.90,359.39 L850.40,359.23 L850.90,359.54 L851.40,359.29 L851.90,359.27 L852.40,359.31 L852.90,359.38 L853.40,359.49 L853.90,359.17 L854.40,359.27 L854.90,358.37 L855.40,357.66 L855.90,356.53 L856.40,355.73 L856.70,355.97 L856.90,356.01 L857.40,356.38 L857.90,357.41 L858.40,358.42 L858.90,359.14 L859.40,359.42 L859.90,359.47 L860.40,359.41 L860.90,359.15 L861.40,359.31 L861.90,359.19 L862.40,359.39 L862.90,359.42 L863.40,359.20 L863.90,359.23 L864.40,359.55 L864.90,359.10 L865.40,359.57 L865.90,359.62 L866.40,359.65 L866.90,359.31 L867.40,359.41 L867.90,359.43 L868.40,359.45 L868.90,359.63 L869.40,359.37 L869.90,358.96 L870.40,359.01 L870.90,358.44 L871.40,358.28 L871.60,358.33 L871.90,357.95 L872.40,358.68 L872.90,358.96 L873.40,359.13 L873.90,359.30 L874.40,359.33 L874.90,359.19 L875.40,359.40 L875.90,359.11 L876.40,359.39 L876.90,359.48 L877.40,359.36 L877.90,359.43 L878.40,359.67 L878.90,359.63 L879.40,359.18 L879.90,359.57 L880.40,359.47 L880.90,359.13 L881.40,359.31 L881.90,359.24 L882.40,359.14 L882.90,359.42 L883.40,359.65 L883.90,359.29 L884.40,359.62 L884.90,359.51 L885.40,359.18 L885.90,359.61 L886.40,359.46 L886.90,359.65 L887.40,359.53 L887.90,359.54 L888.40,359.30 L888.90,359.58 L889.40,359.66 L889.90,359.61 L890.40,359.36 L890.90,359.55 L891.40,359.39 L891.90,359.16 L892.40,359.12 L892.90,359.14 L893.40,359.22 L893.90,359.19 L894.40,359.40 L894.90,359.52 L895.40,359.42 L895.90,359.35 L896.40,359.49 L896.90,359.28 L897.40,359.38 L897.90,359.55 L898.40,359.34 L898.90,359.20 L899.40,359.64 L899.90,359.53 L900.40,359.32 L900.90,359.32 L901.40,359.41 L901.90,359.45 L902.40,359.23 L902.90,359.10 L903.40,359.22 L903.90,359.56 L904.40,359.18 L904.90,359.37 L905.40,359.21 L905.90,359.22 L906.40,359.19 L906.90,359.33 L907.40,359.19 L907.90,359.10 L908.40,359.14 L908.90,359.17 L909.40,359.36 L909.90,359.09 L910.40,359.03 L910.90,359.19 L911.40,358.90 L911.90,358.53 L912.40,357.29 L912.90,356.58 L913.40,356.05 L913.50,355.82 L913.90,356.63 L914.40,357.01 L914.90,357.86 L915.40,358.76 L915.90,358.94 L916.40,359.36 L916.90,359.25 L917.40,359.14 L917.90,359.10 L918.40,359.51 L918.90,359.25 L919.40,359.56 L919.90,359.37 L920.40,359.65 L920.90,359.27 L921.40,359.24 L921.90,359.25 L922.40,359.58 L922.90,359.47 L923.40,359.30 L923.90,359.15 L924.40,359.50 L924.90,359.68 L925.40,359.45 L925.90,359.10 L926.40,359.11 L926.90,359.15 L927.40,359.20 L927.90,359.12 L928.40,359.13 L928.90,359.49 L929.40,359.64 L929.90,359.22 L930.40,359.68 L930.90,359.38 L931.40,359.58 L931.90,359.65 L932.40,359.66 L932.90,359.12 L933.40,359.28 L933.90,359.46 L934.40,359.67 L934.90,359.15 L935.40,359.27 L935.90,359.61 L936.40,359.17 L936.90,359.33 L937.40,359.30 L937.90,359.51 L938.40,359.66 L938.90,359.20 L939.40,359.54 L939.90,359.54 L940.40,359.60 L940.90,359.43 L941.40,359.65 L941.90,359.32 L942.40,359.35 L942.90,359.24 L943.40,359.57 L943.90,359.39 L944.40,359.26 L944.90,359.20 L945.40,359.53 L945.90,359.46 L946.40,359.53 L946.90,359.33 L947.40,359.39 L947.90,359.19 L948.40,359.53 L948.90,359.11 L949.40,359.38 L949.90,359.55 L950.40,359.51 L950.90,359.16 L951.40,359.24 L951.90,359.61 L952.40,359.48 L952.90,359.63 L953.40,359.62 L953.90,359.37 L954.40,359.64 L954.90,359.54 L955.40,359.30 L955.90,359.32 L956.40,359.14 L956.90,359.34 L957.40,359.67 L957.90,359.16 L958.40,359.44 L958.90,359.17 L959.40,359.15 L959.90,359.49 L960.40,359.24 L960.90,359.13 L961.40,359.19 L961.90,359.49 L962.40,359.45 L962.90,359.11 L963.40,359.24 L963.90,359.68 L964.40,359.23 L964.90,359.44 L965.40,359.35 L965.90,359.57 L966.40,359.46 L966.90,359.57 L967.40,359.42 L967.90,359.21 L968.40,359.21 L968.90,359.15 L969.40,359.59 L969.90,359.17 L970.40,359.11 L970.90,359.68 L971.40,359.22 L971.90,359.64 L972.40,359.15 L972.90,359.38 L973.40,359.23 L973.90,359.60 L974.40,359.47 L974.90,359.48 L975.40,359.56 L975.90,359.62 L976.40,359.31 L976.90,359.46 L977.40,359.37 L977.90,359.17 L978.40,359.60 L978.90,359.46 L979.40,359.59 L979.90,359.22 L980.40,359.42 L980.90,359.38 L981.40,359.54 L981.90,359.15 L982.40,359.31 L982.90,359.39 L983.40,359.14 L983.90,359.43 L984.40,359.54 L984.90,359.35 L985.40,359.49 L985.90,359.46 L986.40,359.23 L986.90,359.31 L987.40,359.70 L987.90,359.30 L988.40,359.36 L988.90,359.15 L989.40,359.23 L989.90,359.20 L990.40,359.66 L990.90,359.54 L991.40,359.62 L991.90,359.69 L992.40,359.47 L992.90,359.66 L993.40,359.42 L993.90,359.35 L994.40,359.67 L994.90,359.64 L995.40,359.67 L995.90,359.39 L996.40,359.56 L996.90,359.34 L997.40,359.70 L997.90,359.65 L998.40,359.28 L998.90,359.66 L999.40,359.21 L999.90,359.16 L1000.40,359.53 L1000.90,359.28 L1001.40,359.41 L1001.90,359.48 L1002.40,359.12 L1002.90,359.55 L1003.40,359.27 L1003.90,359.36 L1004.40,359.31 L1004.90,359.55 L1005.40,359.55 L1005.90,359.27 L1006.40,359.16 L1006.90,359.28 L1007.40,359.35 L1007.90,359.15 L1008.40,359.19 L1008.90,359.56 L1009.40,359.52 L1009.90,359.69 L1010.40,359.69 L1010.90,359.63 L1011.40,359.32 L1011.90,359.20 L1012.40,359.29 L1012.90,359.38 L1013.40,359.42 L1013.90,359.43 L1014.40,359.32 L1014.90,359.61 L1015.40,359.27 L1015.90,359.38 L1016.40,359.63 L1016.90,359.58 L1017.40,359.28 L1017.90,359.25 L1018.40,359.58 L1018.90,359.11 L1019.40,359.18 L1019.90,359.42 L1020.40,359.42 L1020.90,359.20 L1021.40,359.13 L1021.90,359.22 L1022.40,359.56 L1022.90,359.38 L1023.40,359.69 L1023.90,359.57 L1024.40,359.69 L1024.90,359.12 L1025.40,359.21 L1025.90,359.11 L1026.40,359.36 L1026.90,359.30 L1027.40,359.13 L1027.90,359.43 L1028.40,359.16 L1028.90,359.29 L1029.40,359.25 L1029.90,359.58 L1030.40,359.35 L1030.90,359.26 L1031.40,359.13 L1031.90,359.36 L1032.40,359.48 L1032.90,359.50 L1033.40,359.65 L1033.90,359.58 L1034.40,359.25 L1034.90,359.18 L1035.40,359.55 L1035.90,359.57 L1036.40,359.41 L1036.90,359.60 L1037.40,359.43 L1037.90,359.27 L1038.40,359.20 L1038.90,359.11 L1039.40,359.49 L1039.90,359.64 L1040.40,359.64 L1040.90,359.38 L1041.40,359.50 L1041.90,359.66 L1042.40,359.59 L1042.90,359.46 L1043.40,359.35 L1043.90,359.41 L1044.40,359.20 L1044.90,359.21 L1045.40,359.51 L1045.90,359.70 L1046.40,359.43 L1046.90,359.34 L1047.40,359.31 L1047.90,359.37 L1048.40,359.58 L1048.90,359.37 L1049.40,359.68 L1049.90,359.19 L1050.40,359.29 L1050.90,359.41 L1051.40,359.35 L1051.90,359.61 L1052.40,359.60 L1052.90,359.66 L1053.40,359.47 L1053.90,359.12 L1054.40,359.44 L1054.90,359.43 L1055.40,359.39 L1055.90,359.27 L1056.40,359.53 L1056.90,359.65 L1057.40,359.16 L1057.90,359.50 L1058.40,359.32 L1058.90,359.41 L1059.40,359.64 L1059.90,359.68 L1060.40,359.49 L1060.90,359.22 L1061.40,359.65 L1061.90,359.21 L1062.40,359.33 L1062.90,359.60 L1063.40,359.29 L1063.90,359.26 L1064.40,359.67 L1064.90,359.67 L1065.40,359.29 L1065.90,359.34 L1066.40,359.27 L1066.90,359.18 L1067.40,359.25 L1067.90,359.69 L1068.40,359.15 L1068.90,359.24 L1069.40,359.22 L1069.90,359.15 L1070.40,359.42 L1070.90,359.55 L1071.40,359.60 L1071.90,359.48 L1072.40,359.59 L1072.90,359.10 L1073.40,359.27 L1073.90,359.68 L1074.40,359.14 L1074.90,359.26 L1075.40,359.39 L1075.90,359.26 L1076.40,359.43 L1076.90,359.13 L1077.40,359.24 L1077.90,359.67 L1078.40,359.19 L1078.90,359.64 L1079.40,359.21 L1079.90,359.70 L1080.40,359.50 L1080.90,359.49 L1081.40,359.19 L1081.90,359.13 L1082.40,359.56 L1082.90,359.21 L1083.40,359.21 L1083.90,359.59 L1084.40,359.62 L1084.90,359.13 L1085.40,359.68 L1085.90,359.42 L1086.40,359.33 L1086.90,359.16 L1087.40,359.33 L1087.90,359.69 L1088.40,359.27 L1088.90,359.18 L1089.40,359.19 L1089.90,359.18 L1090.40,359.31" fill="none" stroke="#000" stroke-width="3.6" stroke-linejoin="round"/>
<line x1="901.5" y1="40.9" x2="954.5" y2="40.9" stroke="#ff0000" stroke-width="4.2"/>
<line x1="901.5" y1="70.6" x2="954.5" y2="70.6" stroke="#000" stroke-width="4.2"/>
<text x="960.5" y="48.4" font-family='"Liberation Sans", sans-serif' font-weight="bold" font-size="22.5" textLength="99" lengthAdjust="spacingAndGlyphs">HCOONa</text>
<text x="960.5" y="78.6" font-family='"Liberation Sans", sans-serif' font-weight="bold" font-size="22.5" textLength="88" lengthAdjust="spacingAndGlyphs">Product</text>
<text x="548.3" y="47.6" font-family='"Liberation Serif", serif' font-weight="bold" font-size="43.6" textLength="55.8" lengthAdjust="spacingAndGlyphs">(b)</text>
<text transform="translate(597.7,283.4) rotate(-90)" font-family='"Liberation Sans", sans-serif' font-weight="bold" font-size="23.5" textLength="163" lengthAdjust="spacingAndGlyphs">Intensity <tspan font-weight="normal">(</tspan>a.u.<tspan font-weight="normal">)</tspan></text>
<text x="760.5" y="427.6" font-family='"Liberation Sans", sans-serif' font-weight="bold" font-size="22.5">2</text>
<text x="782.5" y="427.6" font-family='"Liberation Sans", sans-serif' font-weight="bold" font-size="22.5" textLength="59.5" lengthAdjust="spacingAndGlyphs">Theta</text>
<text x="850.2" y="427.8" font-family='"Liberation Sans", sans-serif' font-size="18.8">(</text>
<text x="857.6" y="427.4" font-family='"Liberation Sans", sans-serif' font-weight="bold" font-size="22" textLength="75.5" lengthAdjust="spacingAndGlyphs">degree</text>
<text x="933.5" y="427.8" font-family='"Liberation Sans", sans-serif' font-size="18.8">)</text>
</svg>
</body></html>
